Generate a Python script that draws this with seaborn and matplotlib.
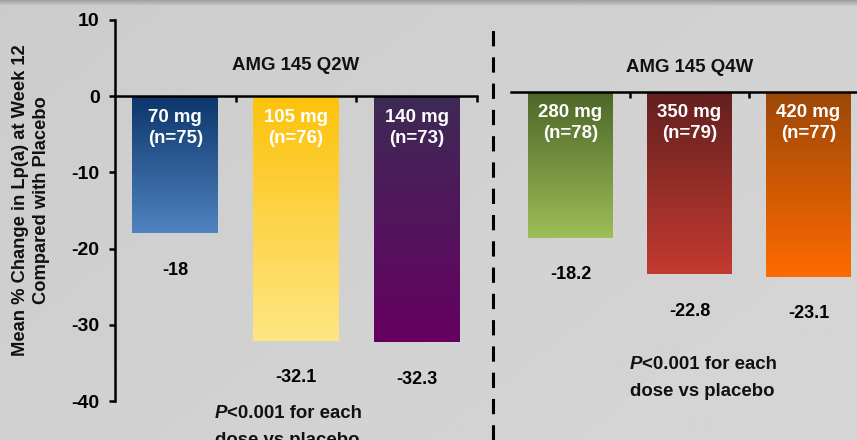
import numpy as np
import pandas as pd
import matplotlib
matplotlib.use("Agg")
import matplotlib.pyplot as plt
from matplotlib.colors import LinearSegmentedColormap
import seaborn as sns

# Lp(a) percent change at week 12 vs placebo, by dose group
q2w_doses = ["70 mg", "105 mg", "140 mg"]
q2w_n = [75, 76, 73]
q2w_change = [-18.0, -32.1, -32.3]
q2w_labels = ["-18", "-32.1", "-32.3"]

q4w_doses = ["280 mg", "350 mg", "420 mg"]
q4w_n = [78, 79, 77]
q4w_change = [-18.2, -22.8, -23.1]
q4w_labels = ["-18.2", "-22.8", "-23.1"]

group_titles = ["AMG 145 Q2W", "AMG 145 Q4W"]
y_ticks = [10, 0, -10, -20, -30, -40]
y_label = "Mean % Change in Lp(a) at Week 12\nCompared with Placebo"
p_note = ("P", "<0.001 for each", "dose vs placebo")

# top -> bottom gradient colours for each bar
q2w_grad = [("#0b356a", "#5083c0"), ("#fcc20c", "#ffe684"), ("#3d2b55", "#660062")]
q4w_grad = [("#4d6628", "#9dbe58"), ("#62201f", "#c33a30"), ("#9c4808", "#ff6a00")]

sns.set_theme(style="white")
plt.rcParams["font.family"] = ["Liberation Sans", "DejaVu Sans"]
plt.rcParams["font.weight"] = "bold"

W, H = 857, 440
fig = plt.figure(figsize=(W / 100, H / 100), dpi=100)

# soft grey backdrop with a darker band along the top edge
bg = fig.add_axes([0, 0, 1, 1], zorder=-10)
yy, xx = np.mgrid[0:1:200j, 0:1:400j]
shade = 0.80 + 0.04 * (xx * 0.6 + yy * 0.4)
bg.imshow(shade, cmap="gray", vmin=0, vmax=1, aspect="auto",
          extent=[0, 1, 0, 1], origin="upper")
band = np.linspace(0.62, 0.80, 20)[:, None] * np.ones((20, 10))
bg.imshow(band, cmap="gray", vmin=0, vmax=1, aspect="auto",
          extent=[0, 1, 1 - 6 / H, 1], origin="upper")
bg.set_xlim(0, 1)
bg.set_ylim(0, 1)
bg.axis("off")


def px_box(x0, x1, y_top, y_bot):
    return [x0 / W, 1 - y_bot / H, (x1 - x0) / W, (y_bot - y_top) / H]


ax1 = fig.add_axes(px_box(115, 477, 20, 401))
ax2 = fig.add_axes(px_box(511, 868, 20, 401))
for a in (ax1, ax2):
    a.set_facecolor("none")

lw = 1.8
FS = 13.4


def draw_group(ax, doses, ns, vals, labels, grads, ylim, inner_y, title, title_y):
    df = pd.DataFrame({"dose": doses, "change": vals})
    sns.barplot(data=df, x="dose", y="change", ax=ax, width=0.71,
                color="white", saturation=1, errorbar=None)
    ax.set_ylim(*ylim)
    ax.set_xlim(-0.5, 2.5)
    for patch, (c_top, c_bot) in zip(ax.patches, grads):
        x0, y0 = patch.get_x(), patch.get_y()
        w, h = patch.get_width(), patch.get_height()
        cmap = LinearSegmentedColormap.from_list("g", [c_top, c_bot])
        grad = np.linspace(0, 1, 256)[:, None]
        im = ax.imshow(grad, cmap=cmap, aspect="auto",
                       extent=[x0, x0 + w, min(y0, y0 + h), max(y0, y0 + h)],
                       origin="upper", zorder=patch.get_zorder() + 0.1)
        im.set_clip_path(patch)
        patch.set_edgecolor("none")
    for i, (d, n, v, lab) in enumerate(zip(doses, ns, vals, labels)):
        ax.text(i, inner_y, f"{d}\n(n={n})", ha="center", va="center",
                color="white", fontsize=FS, fontweight="bold",
                linespacing=1.3, zorder=5)
        ax.annotate(lab, xy=(i, v), xytext=(0, -26.5), textcoords="offset points",
                    ha="center", va="center", fontsize=13, fontweight="bold",
                    color="black")
    ax.text(1, title_y, title, ha="center", va="center", fontsize=FS,
            fontweight="bold", color="#111111")
    ax.set_xlabel("")
    ax.set_ylabel("")
    ax.set_xticks([0.5, 1.5, 2.5])
    ax.set_xticklabels([])
    ax.spines["bottom"].set_position(("data", 0))
    ax.spines["top"].set_visible(False)
    ax.spines["right"].set_visible(False)
    for s in ax.spines.values():
        s.set_linewidth(lw)
        s.set_color("black")
    ax.tick_params(axis="x", direction="out", length=4, width=lw, color="black",
                   bottom=True, pad=0)
    ax.set_xbound(-0.5, 2.5)


draw_group(ax1, q2w_doses, q2w_n, q2w_change, q2w_labels, q2w_grad,
           (-40, 10), -4.15, group_titles[0], 4.05)
draw_group(ax2, q4w_doses, q4w_n, q4w_change, q4w_labels, q4w_grad,
           (-38.625, 9.0), -3.9, group_titles[1], 3.05)

# left value axis
ax1.set_yticks(y_ticks)
ax1.set_yticklabels([str(t) for t in y_ticks], fontsize=14, fontweight="bold")
ax1.tick_params(axis="y", direction="out", length=4, width=lw, color="black",
                left=True, pad=7, labelcolor="black")
ax1.spines["left"].set_bounds(-40, 10)

# right panel has no visible value axis
ax2.spines["left"].set_visible(False)
ax2.set_yticks([])

# bottom spine spans the category slots only
ax1.spines["bottom"].set_bounds(-0.5, 2.5)

fig.text(31 / W, 1 - 200 / H, y_label, rotation=90, ha="center", va="center",
         fontsize=13.2, fontweight="bold", linespacing=1.3, color="#111111")

# group divider
fig.add_artist(plt.Line2D([493 / W, 493 / W], [0, 1 - 30 / H], color="black",
                          lw=2.2, linestyle=(0, (5, 3.6))))


# significance notes
def p_text(x_px, y_px):
    t = fig.text(x_px / W, 1 - y_px / H, p_note[0], ha="left", va="baseline",
                 fontsize=FS, fontweight="bold", style="italic", color="#111111")
    plt.annotate(p_note[1], xy=(1, 0), xycoords=t, ha="left", va="bottom",
                 fontsize=FS, fontweight="bold", color="#111111",
                 annotation_clip=False)
    plt.annotate(p_note[2], xy=(0, 0), xycoords=t, xytext=(0, -16.5),
                 textcoords="offset points", ha="left", va="baseline",
                 fontsize=FS, fontweight="bold", color="#111111",
                 annotation_clip=False)


p_text(215, 418)
p_text(630, 369)

fig.savefig("out.png", dpi=100)
